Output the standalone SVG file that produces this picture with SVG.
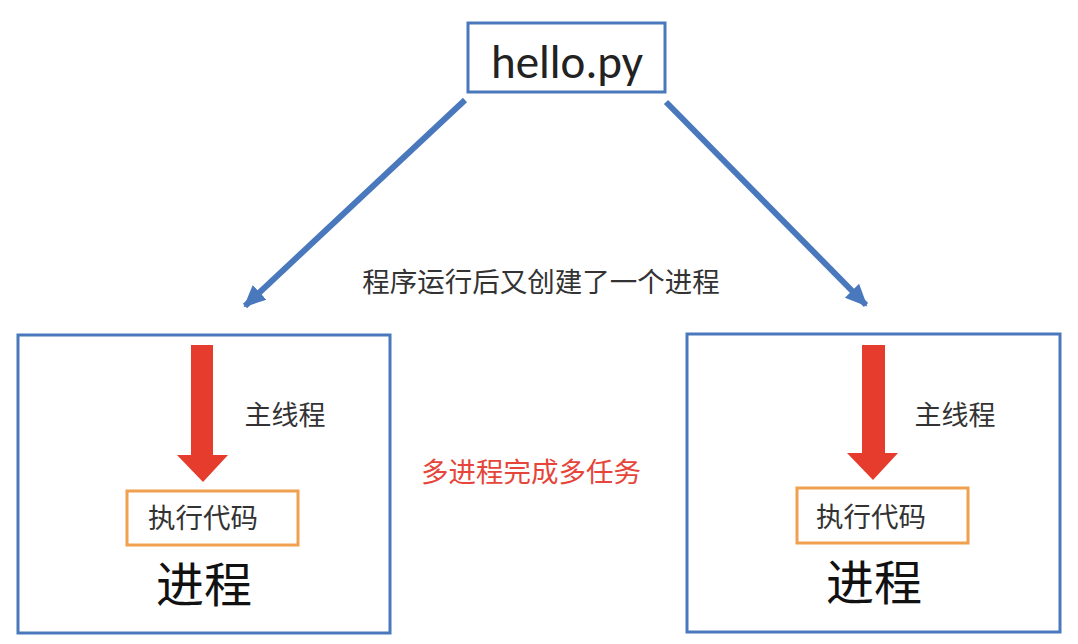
<svg xmlns="http://www.w3.org/2000/svg" width="1078" height="644" viewBox="0 0 1078 644">
<style>
.box{fill:#fff;stroke:#4a78bd;stroke-width:3}
.obox{fill:#fff;stroke:#f0a04e;stroke-width:3}
.t{font-family:"Noto Sans CJK SC","Liberation Sans",sans-serif;fill:#333}
.red{fill:#e53c2d}
.conn{stroke:#4a78bd;stroke-width:6;fill:none;marker-end:url(#ah)}
</style>
<defs>
<marker id="ah" markerUnits="userSpaceOnUse" markerWidth="24" markerHeight="24" viewBox="0 0 24 24" refX="20" refY="12" orient="auto">
<path d="M0,2 L22,12 L0,22 z" fill="#4a78bd"/>
</marker>
</defs>
<rect width="1078" height="644" fill="#fff"/>
<g id="connectors">
<line class="conn" x1="465" y1="100" x2="245" y2="306"/>
<line class="conn" x1="666" y1="102" x2="866" y2="305"/>
</g>
<g id="hello">
<rect class="box" x="468" y="23" width="197" height="69"/>
<text x="567" y="78" text-anchor="middle" font-family="Carlito,'Liberation Sans',sans-serif" font-size="47" fill="#222">hello.py</text>
</g>
<text class="t" x="541" y="292" text-anchor="middle" font-size="27.5">程序运行后又创建了一个进程</text>
<text class="t" x="531" y="482" text-anchor="middle" font-size="27.5" style="fill:#e5453a">多进程完成多任务</text>
<g id="process-left">
<rect class="box" x="18" y="335" width="372" height="298"/>
<path class="red" d="M191,345 H213 V455 H228 L203,482 L177,455 H191 Z"/>
<text class="t" x="285" y="425" text-anchor="middle" font-size="27">主线程</text>
<rect class="obox" x="127" y="491" width="171" height="54"/>
<text class="t" x="203" y="528" text-anchor="middle" font-size="27.5">执行代码</text>
<text class="t" x="204" y="602" text-anchor="middle" font-size="48" style="fill:#111">进程</text>
</g>
<g id="process-right">
<rect class="box" x="687" y="334" width="373" height="298"/>
<path class="red" d="M862,345 H885 V453 H898 L873,480 L847,453 H862 Z"/>
<text class="t" x="955" y="425" text-anchor="middle" font-size="27">主线程</text>
<rect class="obox" x="797" y="488" width="171" height="55"/>
<text class="t" x="871" y="527" text-anchor="middle" font-size="27.5">执行代码</text>
<text class="t" x="874" y="600" text-anchor="middle" font-size="48" style="fill:#111">进程</text>
</g>
</svg>
